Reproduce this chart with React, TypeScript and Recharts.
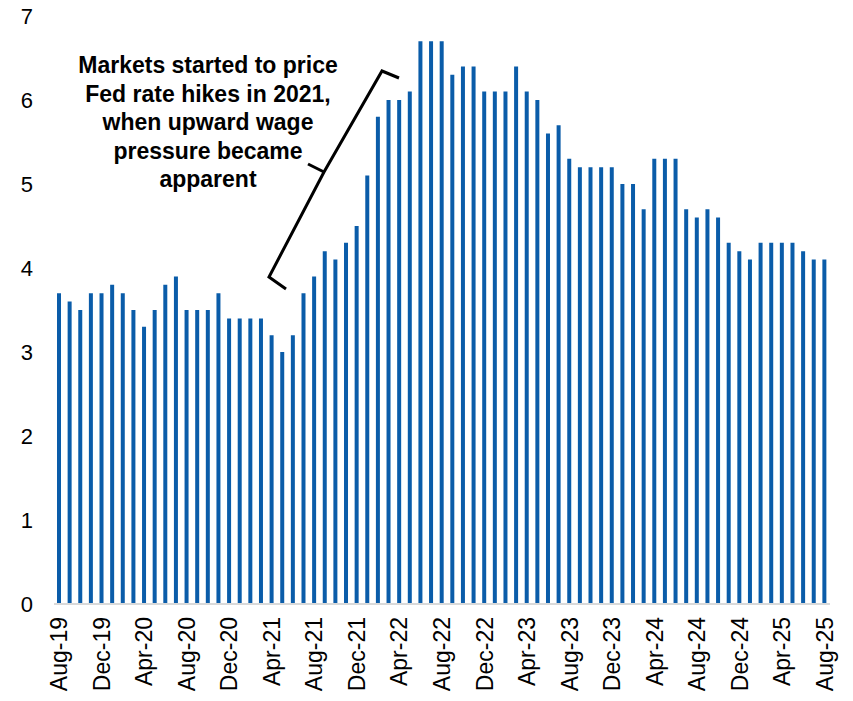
import React from "react";
import { BarChart, Bar, XAxis, YAxis } from "recharts";

const months: string[] = [
  "Aug-19","Sep-19","Oct-19","Nov-19","Dec-19",
  "Jan-20","Feb-20","Mar-20","Apr-20","May-20","Jun-20","Jul-20","Aug-20","Sep-20","Oct-20","Nov-20","Dec-20",
  "Jan-21","Feb-21","Mar-21","Apr-21","May-21","Jun-21","Jul-21","Aug-21","Sep-21","Oct-21","Nov-21","Dec-21",
  "Jan-22","Feb-22","Mar-22","Apr-22","May-22","Jun-22","Jul-22","Aug-22","Sep-22","Oct-22","Nov-22","Dec-22",
  "Jan-23","Feb-23","Mar-23","Apr-23","May-23","Jun-23","Jul-23","Aug-23","Sep-23","Oct-23","Nov-23","Dec-23",
  "Jan-24","Feb-24","Mar-24","Apr-24","May-24","Jun-24","Jul-24","Aug-24","Sep-24","Oct-24","Nov-24","Dec-24",
  "Jan-25","Feb-25","Mar-25","Apr-25","May-25","Jun-25","Jul-25","Aug-25",
];

const values: number[] = [
  3.7, 3.6, 3.5, 3.7, 3.7,
  3.8, 3.7, 3.5, 3.3, 3.5, 3.8, 3.9, 3.5, 3.5, 3.5, 3.7, 3.4,
  3.4, 3.4, 3.4, 3.2, 3.0, 3.2, 3.7, 3.9, 4.2, 4.1, 4.3, 4.5,
  5.1, 5.8, 6.0, 6.0, 6.1, 6.7, 6.7, 6.7, 6.3, 6.4, 6.4, 6.1,
  6.1, 6.1, 6.4, 6.1, 6.0, 5.6, 5.7, 5.3, 5.2, 5.2, 5.2, 5.2,
  5.0, 5.0, 4.7, 5.3, 5.3, 5.3, 4.7, 4.6, 4.7, 4.6, 4.3, 4.2,
  4.1, 4.3, 4.3, 4.3, 4.3, 4.2, 4.1, 4.1,
];

const yTicks: number[] = [0, 1, 2, 3, 4, 5, 6, 7];

const annotationLines: string[] = [
  "Markets started to price",
  "Fed rate hikes in 2021,",
  "when upward wage",
  "pressure became",
  "apparent",
];

const data = months.map((m, i) => ({ month: m, value: values[i] }));

const FONT = "Arial, 'Liberation Sans', Helvetica, sans-serif";

const XTick = (props: any) => {
  const { x, y, payload } = props;
  return (
    <text
      x={x}
      y={y}
      transform={`rotate(-90, ${x}, ${y})`}
      textAnchor="end"
      dominantBaseline="central"
      fontSize={23}
      fontFamily={FONT}
      fill="#000"
    >
      {payload.value}
    </text>
  );
};

export default function App() {
  return (
    <div style={{ position: "absolute", left: 0, top: 0, width: 853, height: 701, background: "#fff" }}>
      <BarChart
        width={853}
        height={701}
        data={data}
        margin={{ top: 16, right: 23, left: 0, bottom: 0 }}
        barSize={4}
      >
        <XAxis
          dataKey="month"
          interval={3}
          tickLine={false}
          tickSize={0}
          tickMargin={13}
          height={97}
          axisLine={{ stroke: "#d9d9d9", strokeWidth: 2 }}
          tick={<XTick />}
        />
        <YAxis
          domain={[0, 7]}
          ticks={yTicks}
          width={54}
          axisLine={false}
          tickLine={false}
          tickMargin={15}
          tick={{ fontSize: 22, fontFamily: FONT, fill: "#000" }}
        />
        <Bar dataKey="value" fill="#0a5ca9" isAnimationActive={false} />
      </BarChart>
      <svg
        width={853}
        height={701}
        style={{ position: "absolute", left: 0, top: 0, pointerEvents: "none" }}
      >
        {annotationLines.map((line, i) => (
          <text
            key={i}
            x={208}
            y={73 + i * 28.5}
            textAnchor="middle"
            fontSize={23}
            fontWeight="bold"
            fontFamily={FONT}
            fill="#000"
          >
            {line}
          </text>
        ))}
        <polyline
          points="286,289 269,277 324,172 382,71 399,78"
          fill="none"
          stroke="#000"
          strokeWidth={3}
          strokeLinejoin="miter"
        />
        <line x1={324} y1={172} x2={308} y2={164} stroke="#000" strokeWidth={3} />
      </svg>
    </div>
  );
}
